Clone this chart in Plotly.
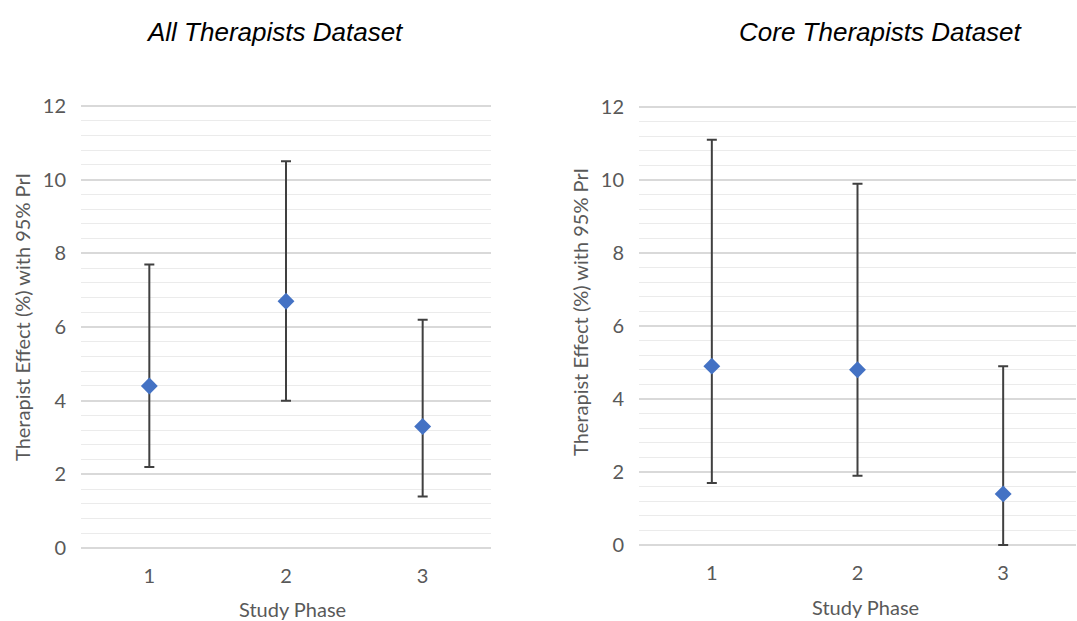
import plotly.graph_objects as go

# Study phases and therapist effect estimates (%) with 95% prediction intervals
phases = [1, 2, 3]
phase_labels = ["1", "2", "3"]

all_effect = [4.4, 6.7, 3.3]
all_lower = [2.2, 4.0, 1.4]
all_upper = [7.7, 10.5, 6.2]

core_effect = [4.9, 4.8, 1.4]
core_lower = [1.7, 1.9, 0.0]
core_upper = [11.1, 9.9, 4.9]

panel_titles = ["All Therapists Dataset", "Core Therapists Dataset"]
y_title = "Therapist Effect (%) with 95% PrI"
x_title = "Study Phase"

TICK_COLOR = "#595959"
BASE_FONT = "Lato, Calibri, 'Open Sans', sans-serif"
MARKER_BLUE = "#4472C4"
BAR_COLOR = "#404040"
W = 1077.0
H = 621.0

# small padding on the value range so the 0 and 12 gridlines are drawn
PAD = 0.06

fig = go.Figure()


def add_panel(effect, lower, upper, xa, ya):
    fig.add_trace(go.Scatter(
        x=phases, y=effect, mode="markers",
        xaxis=xa, yaxis=ya, showlegend=False,
        marker=dict(symbol="diamond", size=13, color=MARKER_BLUE),
        error_y=dict(
            type="data",
            array=[u - e for u, e in zip(upper, effect)],
            arrayminus=[e - l for e, l in zip(effect, lower)],
            color=BAR_COLOR, thickness=2, width=5, symmetric=False,
        ),
    ))


add_panel(all_effect, all_lower, all_upper, "x", "y")
add_panel(core_effect, core_lower, core_upper, "x2", "y2")

xaxis_common = dict(
    range=[0.5, 3.5], tickvals=phases, ticktext=phase_labels,
    showgrid=False, zeroline=False, showline=False, ticks="",
    tickfont=dict(family=BASE_FONT, size=20, color=TICK_COLOR),
    ticklabelstandoff=12,
    automargin=False, fixedrange=True,
)
yaxis_common = dict(
    range=[-PAD, 12 + PAD], dtick=2, tick0=0,
    showgrid=True, gridcolor="#d9d9d9", gridwidth=1.5,
    minor=dict(dtick=0.4, tick0=0, showgrid=True, gridcolor="#ebebeb", gridwidth=1.3),
    zeroline=False, showline=False, ticks="",
    tickfont=dict(family=BASE_FONT, size=20, color=TICK_COLOR),
    ticklabelstandoff=14,
    automargin=False, fixedrange=True,
)


def y_domain(top_px, bottom_px):
    per_unit = (bottom_px - top_px) / 12.0
    extra = PAD * per_unit
    return [1 - (bottom_px + extra) / H, 1 - (top_px - extra) / H]


fig.update_layout(
    width=1077, height=621, autosize=False,
    margin=dict(l=0, r=0, t=0, b=0, pad=0),
    paper_bgcolor="white", plot_bgcolor="white",
    xaxis=dict(domain=[81 / W, 491 / W], anchor="y", **xaxis_common),
    yaxis=dict(domain=y_domain(106, 548), anchor="x", **yaxis_common),
    xaxis2=dict(domain=[639 / W, 1076 / W], anchor="y2", **xaxis_common),
    yaxis2=dict(domain=y_domain(107, 545), anchor="x2", **yaxis_common),
)

# Panel titles
for x_c, txt in zip([275, 881], panel_titles):
    fig.add_annotation(
        x=x_c / W, y=1 - 32 / H, xref="paper", yref="paper", text=f"<i>{txt}</i>",
        showarrow=False, xanchor="center", yanchor="middle",
        font=dict(family="'Liberation Sans', Arial, sans-serif", size=26, color="black"),
    )

# Vertical axis titles
for x_c, y_c in [(22, 317), (580, 312)]:
    fig.add_annotation(
        x=x_c / W, y=1 - y_c / H, xref="paper", yref="paper", text=y_title,
        showarrow=False, textangle=-90, xanchor="center", yanchor="middle",
        font=dict(family=BASE_FONT, size=20, color=TICK_COLOR),
    )

# Horizontal axis titles
for x_c, y_c in [(292, 609), (865, 607)]:
    fig.add_annotation(
        x=x_c / W, y=1 - y_c / H, xref="paper", yref="paper", text=x_title,
        showarrow=False, xanchor="center", yanchor="middle",
        font=dict(family=BASE_FONT, size=20, color=TICK_COLOR),
    )

fig.write_html("out.html")
